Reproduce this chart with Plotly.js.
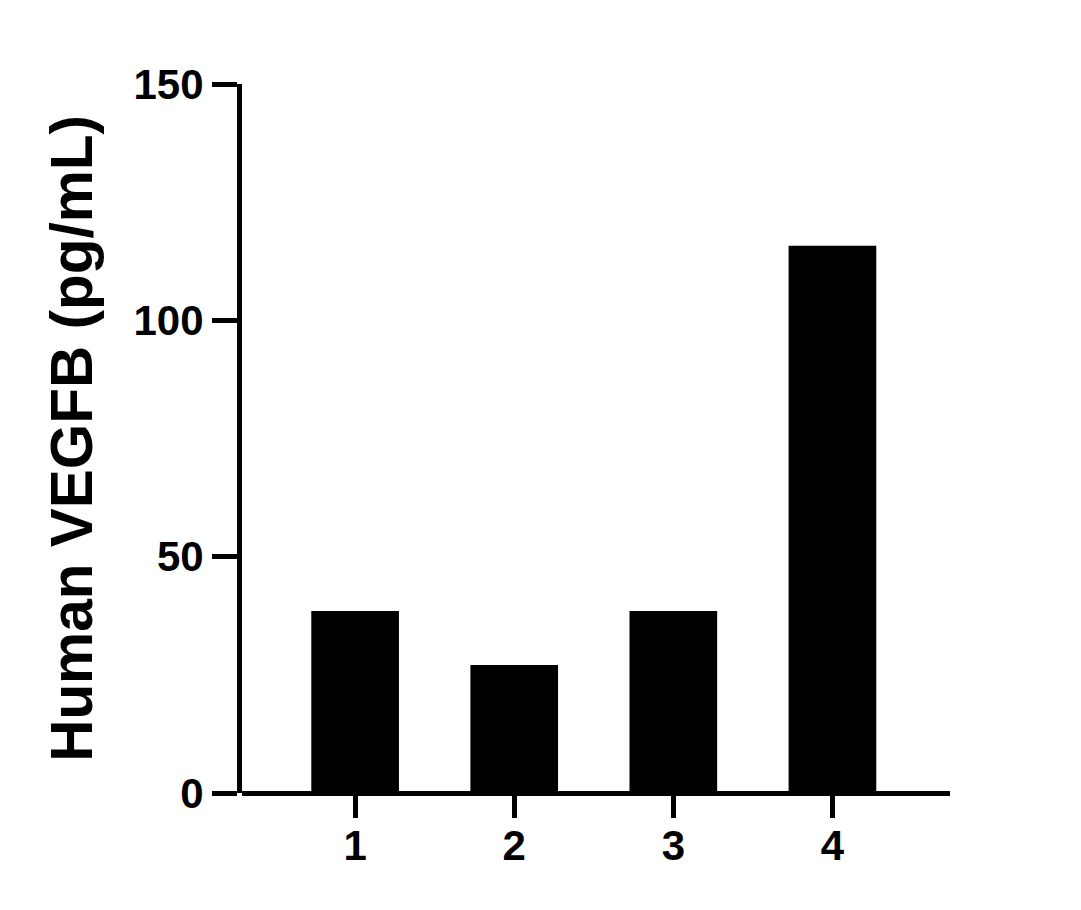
<!DOCTYPE html>
<html>
<head>
<meta charset="utf-8">
<script src="https://cdn.plot.ly/plotly-3.0.1.min.js"></script>
<style>html,body{margin:0;padding:0;background:#fff;}#chart{width:1081px;height:910px;}</style>
</head>
<body>
<div id="chart"></div>
<script>
var categories = ['1', '2', '3', '4'];
var values = [38.5, 27.1, 38.5, 115.8];
var yTickVals = [0, 50, 100, 150];
var yTickText = ['0', '50', '100', '150'];
var yTitle = 'Human VEGFB (pg/mL)';

var FONT = 'Liberation Sans, Arial, Helvetica, sans-serif';

var trace = {
  type: 'bar',
  x: categories,
  y: values,
  marker: {color: '#000000', line: {width: 0}},
  hoverinfo: 'none'
};

var layout = {
  width: 1081,
  height: 910,
  margin: {l: 242, r: 131, t: 83.5, b: 117},
  paper_bgcolor: '#ffffff',
  plot_bgcolor: '#ffffff',
  showlegend: false,
  bargap: 0.449,
  font: {family: FONT, color: '#000000'},
  xaxis: {
    type: 'category',
    range: [-0.711, 3.739],
    showline: false,
    showgrid: false,
    zeroline: false,
    ticks: 'outside',
    ticklen: 24,
    tickwidth: 5,
    tickcolor: '#000000',
    ticklabelstandoff: -8,
    tickfont: {family: FONT, size: 42, weight: 'bold', color: '#000000'},
    fixedrange: true
  },
  yaxis: {
    range: [0, 150],
    tickvals: yTickVals,
    ticktext: yTickText,
    showline: true,
    linewidth: 5,
    linecolor: '#000000',
    showgrid: false,
    zeroline: true,
    zerolinewidth: 5,
    zerolinecolor: '#000000',
    ticks: 'outside',
    ticklen: 25,
    tickwidth: 5,
    tickcolor: '#000000',
    tickfont: {family: FONT, size: 42, weight: 'bold', color: '#000000'},
    title: {text: yTitle, font: {family: FONT, size: 58.5, weight: 'bold', color: '#000000'}, standoff: 24},
    fixedrange: true
  }
};

Plotly.newPlot('chart', [trace], layout, {displayModeBar: false, staticPlot: true});
</script>
</body>
</html>
